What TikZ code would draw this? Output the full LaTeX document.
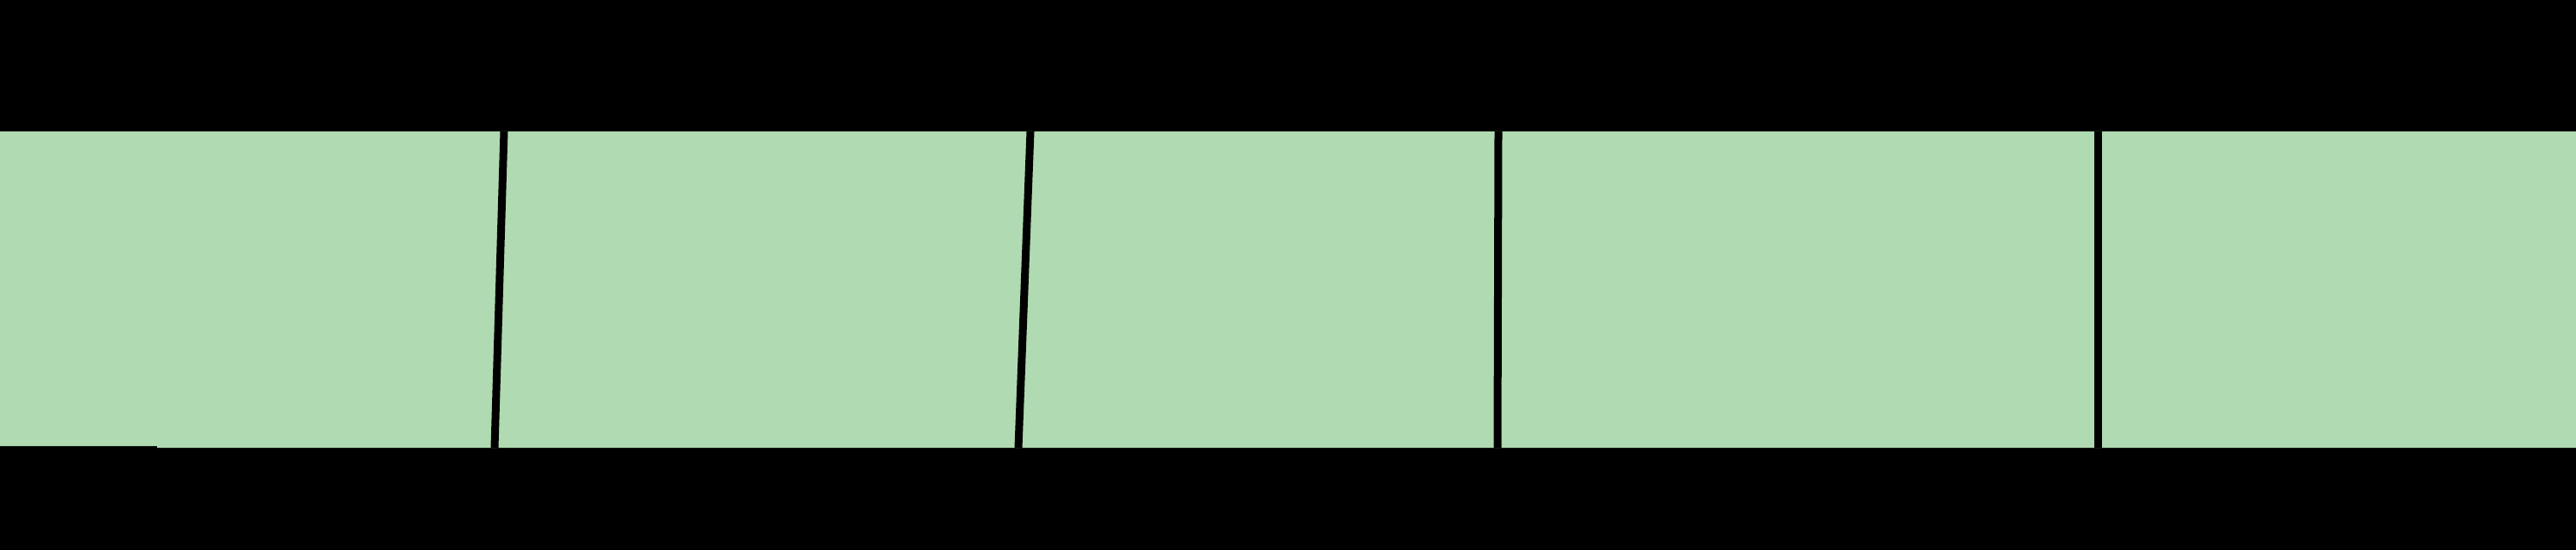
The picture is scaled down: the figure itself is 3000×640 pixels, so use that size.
\documentclass[tikz,border=0pt]{standalone}
\definecolor{bandgreen}{RGB}{176,218,177}
\begin{document}
\begin{tikzpicture}[x=0.01cm,y=-0.01cm,
  divider/.style={line width=0.09cm, draw=black}]
\fill[black] (0,0) rectangle (3000,640);
\useasboundingbox (0,0) rectangle (3000,640);
\fill[bandgreen] (0,153) -- (3000,153) -- (3000,521) -- (183,521) -- (183,519) -- (0,519) -- cycle;
\coordinate (t1) at (587,153);  \coordinate (b1) at (576,521);
\coordinate (t2) at (1200,153); \coordinate (b2) at (1186,521);
\coordinate (t3) at (1745,153); \coordinate (b3) at (1744,521);
\coordinate (t4) at (2443,153); \coordinate (b4) at (2443,521);
\draw[divider] (t1) -- (b1);
\draw[divider] (t2) -- (b2);
\draw[divider] (t3) -- (b3);
\draw[divider] (t4) -- (b4);
\end{tikzpicture}
\end{document}
